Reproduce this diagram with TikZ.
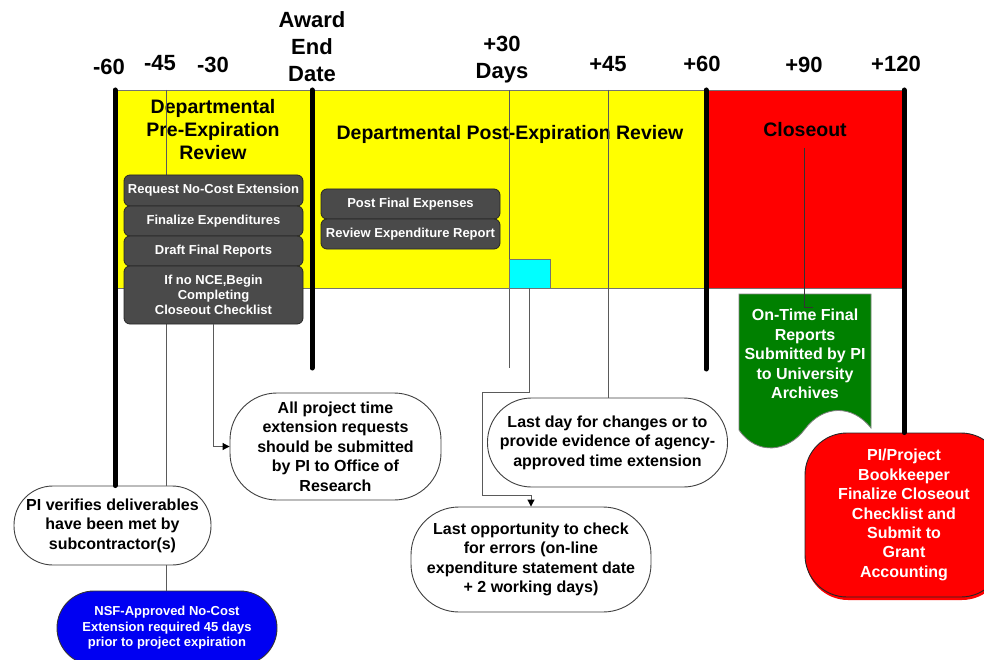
\documentclass[tikz,border=0pt]{standalone}
\usepackage{fontspec}
\setmainfont{Liberation Sans}
\usetikzlibrary{arrows.meta,shadows}

\definecolor{bandyellow}{HTML}{FFFF00}
\definecolor{bandred}{HTML}{FF0000}
\definecolor{markcyan}{HTML}{00FFFF}
\definecolor{taskgray}{HTML}{4A4A4A}
\definecolor{docgreen}{HTML}{008000}
\definecolor{nceblue}{HTML}{0000F2}
\definecolor{linegray}{HTML}{5A5A5A}

\begin{document}
\begin{tikzpicture}[x=1pt,y=-1pt,
  band/.style={draw=black!55,line width=0.8pt,inner sep=0pt,minimum height=198pt},
  daybar/.style={line width=5pt,line cap=round,black},
  thinline/.style={line width=1pt,linegray},
  arrowline/.style={thinline,-{Triangle[length=7pt,width=7pt,color=black,fill=black]}},
  daylabel/.style={font=\fontsize{22}{27}\selectfont\bfseries,inner sep=0pt,align=center},
  heading/.style={font=\fontsize{19.5}{23}\selectfont\bfseries,inner sep=0pt,align=center},
  task/.style={draw=black!85,line width=0.8pt,fill=taskgray,rounded corners=6pt,text=white,
    font=\fontsize{13}{15}\selectfont\bfseries,align=center,inner sep=0pt,minimum width=179pt},
  bubble/.style={draw=black!75,line width=0.9pt,fill=white,align=center,inner sep=0pt,
    font=\fontsize{16}{19.5}\selectfont\bfseries},
]
\useasboundingbox (0,0) rectangle (984,660);
\clip (0,0) rectangle (984,660);

% ---- time bands ----
\node[band,fill=bandyellow,minimum width=197pt] (preband) at (213.5,189) {};
\node[band,fill=bandyellow,minimum width=394pt] (postband) at (509,189) {};
\node[band,fill=bandred,minimum width=197pt] (closeband) at (804.5,189) {};

% ---- day labels ----
\node[daylabel,anchor=base] (dm60) at (109,75) {-60};
\node[daylabel,anchor=base] (dm45) at (160,71) {-45};
\node[daylabel,anchor=base] (dm30) at (213,73) {-30};
\node[daylabel] (dend) at (312,47) {Award\\End\\Date};
\node[daylabel] (dp30) at (502,60) {+30\\Days};
\node[daylabel,anchor=base] (dp45) at (608,72) {+45};
\node[daylabel,anchor=base] (dp60) at (702,72) {+60};
\node[daylabel,anchor=base] (dp90) at (804,73) {+90};
\node[daylabel,anchor=base] (dp120) at (896,72) {+120};

% ---- band headings ----
\node[heading] (prehead) at (213,130) {Departmental\\Pre-Expiration\\Review};
\node[heading] (posthead) at (510,134) {Departmental Post-Expiration Review};
\node[heading] (closehead) at (805,130) {Closeout};

% ---- bubbles below the timeline ----
\node[bubble,minimum width=211pt,minimum height=107pt,rounded corners=47pt] (allproj) at (335.5,446.5)
  {All project time\\extension requests\\should be submitted\\by PI to Office of\\Research};
\node[bubble,minimum width=197pt,minimum height=79pt,rounded corners=39pt] (piver) at (112.5,525.5)
  {PI verifies deliverables\\have been met by\\subcontractor(s)};
\node[bubble,minimum width=240pt,minimum height=89pt,rounded corners=44pt] (lastday) at (607.5,442.5)
  {Last day for changes or to\\provide evidence of agency-\\approved time extension};
\node[bubble,minimum width=240pt,minimum height=105pt,rounded corners=48pt] (lastopp) at (531,559.5)
  {Last opportunity to check\\for errors (on-line\\expenditure statement date\\+ 2 working days)};
\node[draw=black!80,line width=0.9pt,fill=nceblue,text=white,align=center,inner sep=0pt,
  font=\fontsize{13}{15.5}\selectfont\bfseries,
  minimum width=220pt,minimum height=74pt,rounded corners=37pt] (nsf) at (167,628)
  {NSF-Approved No-Cost\\Extension required 45 days\\prior to project expiration};
\node[draw=black!85,line width=0.9pt,fill=bandred,text=white,align=center,inner sep=0pt,
  font=\fontsize{16}{19.4}\selectfont\bfseries,
  drop shadow={shadow xshift=1pt,shadow yshift=-3pt,fill=bandred,opacity=1},
  minimum width=198pt,minimum height=164pt,rounded corners=42pt] (closebox) at (904,515)
  {PI/Project\\Bookkeeper\\Finalize Closeout\\Checklist and\\Submit to\\Grant\\Accounting};

% ---- day markers ----
\coordinate (m60top) at (115,90);
\coordinate (m45top) at (166,90);
\coordinate (m30x) at (213,90);
\coordinate (endtop) at (312,90);
\coordinate (endbot) at (312,368);
\coordinate (p30top) at (509,90);
\coordinate (p30bot) at (509,368);
\coordinate (p45top) at (608,90);
\coordinate (p60top) at (706,90);
\coordinate (p60bot) at (706,369);
\coordinate (p120top) at (904,90);

\draw[daybar] (m60top) -- (m60top |- piver.north);
\draw[daybar] (endtop) -- (endbot);
\draw[daybar] (p60top) -- (p60bot);
\draw[daybar] (p120top) -- (p120top |- closebox.north);

\draw[thinline] (m45top) -- (m45top |- piver.north);
\draw[thinline] (m45top |- piver.south) -- (m45top |- nsf.north);
\draw[thinline] (p30top) -- (p30bot);
\draw[thinline] (p45top) -- (p45top |- lastday.north);

% ---- cyan marker and its connector ----
\node[draw=black!55,line width=0.8pt,fill=markcyan,minimum width=41pt,minimum height=29pt,inner sep=0pt]
  (cyanmark) at (529.5,273.5) {};
\coordinate (cbend1) at (482,392);
\coordinate (cbend2) at (482,495);
\draw[arrowline] (cyanmark.south) |- (cbend1) -- (cbend2) -| (lastopp.north);

% ---- task boxes ----
\node[task,minimum height=31pt] (reqnce) at (213.5,190.5) {Request No-Cost Extension};
\node[task,minimum height=30pt] (finexp) at (213.5,221) {Finalize Expenditures};
\node[task,minimum height=30pt] (draft) at (213.5,251) {Draft Final Reports};
\node[task,minimum height=58pt] (ifnce) at (213.5,295) {If no NCE,Begin\\Completing\\Closeout Checklist};
\node[task,minimum height=30pt] (postexp) at (410.5,204) {Post Final Expenses};
\node[task,minimum height=30pt] (revexp) at (410.5,234) {Review Expenditure Report};

\draw[arrowline] (ifnce.south -| m30x) |- (allproj.west);

% ---- archived reports document ----
\draw[draw=black!50,line width=0.8pt,fill=docgreen]
  (739,294) -- (871,294) -- (871,428)
  .. controls (852,404) and (823,405) .. (805,429)
  .. controls (788,452) and (757,456) .. (739,430) -- cycle;
\node[text=white,align=center,inner sep=0pt,font=\fontsize{16}{19.5}\selectfont\bfseries]
  (archive) at (805,354) {On-Time Final\\Reports\\Submitted by PI\\to University\\Archives};

\coordinate (p90top) at (804,148);
\coordinate (p90end) at (813,307);
\draw[thinline,black!80] (p90top) |- (p90end);
\end{tikzpicture}
\end{document}
